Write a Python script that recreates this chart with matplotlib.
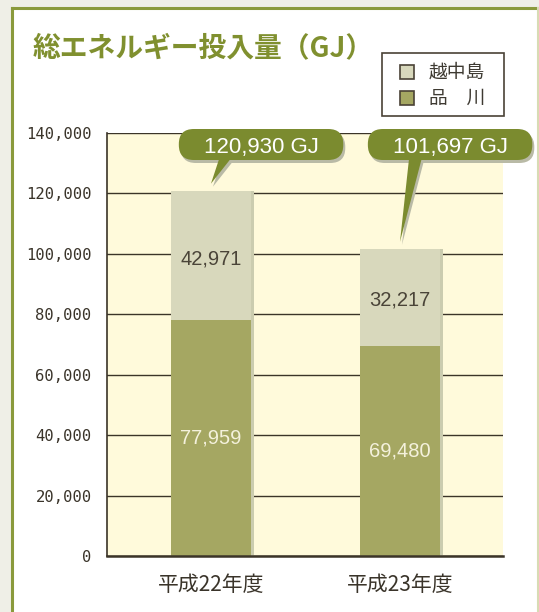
import matplotlib
matplotlib.use('Agg')
import matplotlib.pyplot as plt
from matplotlib.patches import FancyBboxPatch, Rectangle, Polygon
from matplotlib.lines import Line2D
from matplotlib.ticker import FuncFormatter

plt.rcParams['font.family'] = ['Noto Sans CJK JP', 'DejaVu Sans']

# data
years = ['平成22年度', '平成23年度']
shinagawa = [77959, 69480]
etchujima = [42971, 32217]
totals = [120930, 101697]
series_names = ['越中島', '品　川']
y_ticks = [0, 20000, 40000, 60000, 80000, 100000, 120000, 140000]

OLIVE = '#7b8b2f'
C_LOW = '#a5a762'
C_TOP = '#d8d8bc'
C_BG = '#fffadb'
DARK = '#3b3428'

W, H = 539, 612
fig = plt.figure(figsize=(W / 100, H / 100), dpi=100)
fig.patch.set_facecolor('#efefe7')

def px(x, y):
    # pixel from top-left -> figure fraction
    return x / W, 1 - y / H

# white panel with border
fig.patches.append(Rectangle(px(12, 700), (538 - 12) / W, (700 - 8) / H,
                             transform=fig.transFigure, facecolor='white',
                             edgecolor='none', zorder=-2))
fig.lines.append(Line2D([12 / W, 12 / W], [0, 1 - 8 / H], transform=fig.transFigure,
                        color='#8a9a3c', lw=2.2, zorder=-1))
fig.lines.append(Line2D([12 / W, 538 / W], [1 - 8 / H, 1 - 8 / H], transform=fig.transFigure,
                        color='#8a9a3c', lw=2.2, zorder=-1))
fig.lines.append(Line2D([538 / W, 538 / W], [0, 1 - 8 / H], transform=fig.transFigure,
                        color='#d8dbb4', lw=1.5, zorder=-1))

fig.text(33 / W, 1 - 48 / H, '総エネルギー投入量（GJ）', color='#80902f', fontsize=20,
         fontweight='bold', va='center', ha='left')

# legend box
fig.patches.append(Rectangle(px(382, 116), (504 - 382) / W, (116 - 53) / H,
                             transform=fig.transFigure, facecolor='white',
                             edgecolor='#4a4236', lw=1.2))
for k, (name, col) in enumerate(zip(series_names, [C_TOP, C_LOW])):
    yc = 72 + k * 26
    fig.patches.append(Rectangle(px(400, yc + 7), 14 / W, 14 / H, transform=fig.transFigure,
                                 facecolor=col, edgecolor='#4a4236', lw=1.2))
    fig.text(429 / W, 1 - yc / H, name, fontsize=13.5, color='#3e3a32', va='center', ha='left')

# axes
ax = fig.add_axes([107 / W, 1 - 556 / H, (503 - 107) / W, (556 - 133) / H])
ax.set_zorder(1)
ax.set_facecolor(C_BG)
ax.set_ylim(0, 140000)
ax.set_xlim(-0.55, 1.545)
ax.set_yticks(y_ticks)
ax.yaxis.set_major_formatter(FuncFormatter(lambda v, p: f'{int(v):,}'))
for lab in ax.get_yticklabels():
    lab.set_fontfamily('DejaVu Sans Mono')
ax.tick_params(axis='y', length=0, pad=11, labelsize=11.2, labelcolor='#3a342a')
ax.tick_params(axis='x', length=0, pad=13, labelsize=15, labelcolor='#3a342a')
ax.grid(axis='y', color=DARK, lw=1.0, zorder=0)
ax.set_axisbelow(True)
for s in ['top', 'right']:
    ax.spines[s].set_visible(False)
ax.spines['left'].set_color(DARK)
ax.spines['left'].set_linewidth(1.2)
ax.spines['bottom'].set_color(DARK)
ax.spines['bottom'].set_linewidth(1.8)
ax.spines['bottom'].set_zorder(5)

xs = list(range(len(years)))
bw = 0.423
ax.bar([x + 0.018 for x in xs], totals, width=bw, color='#cbccaf', zorder=2)
ax.bar(xs, shinagawa, width=bw, color=C_LOW, zorder=3)
ax.bar(xs, etchujima, width=bw, bottom=shinagawa, color=C_TOP, zorder=3)
ax.set_xticks(xs)
ax.set_xticklabels(years)

for x, lo, hi in zip(xs, shinagawa, etchujima):
    ax.text(x, lo * 0.51, f'{lo:,}', ha='center', va='center_baseline', fontsize=14.5,
            family='Liberation Sans', color='#f4f1dc', zorder=4)
    ax.text(x, lo + hi * 0.49, f'{hi:,}', ha='center', va='center_baseline', fontsize=14.5,
            family='Liberation Sans', color='#4a4438', zorder=4)

# callouts (drawn in display pixels)
fig.canvas.draw()
for x, tot in zip(xs, totals):
    tx, ty = ax.transData.transform((x, tot + 2300))
    bx0 = ax.transData.transform((x - 0.17, 0))[0]
    bx1 = ax.transData.transform((x + 0.70, 0))[0]
    by0 = H - 160
    bh = 31
    b0 = ax.transData.transform((x + 0.05, 0))[0]
    b1 = ax.transData.transform((x + 0.12, 0))[0]
    for dx, dy, col, z in [(2, -3, '#b9baa6', 6), (0, 0, OLIVE, 7)]:
        fig.patches.append(FancyBboxPatch((bx0 + dx, by0 + dy), bx1 - bx0, bh,
                                          boxstyle='round,pad=0,rounding_size=15',
                                          transform=None, facecolor=col,
                                          edgecolor='none', zorder=z))
        fig.patches.append(Polygon([(b0 + dx, by0 + 5 + dy), (b1 + dx, by0 + 5 + dy),
                                    (tx + dx, ty + dy)], closed=True, transform=None,
                                   facecolor=col, edgecolor='none', zorder=z))
    fig.text((bx0 + bx1) / 2 / W, (by0 + bh / 2) / H, f'{tot:,} GJ', color='white',
             fontsize=16, family='Liberation Sans', ha='center', va='center_baseline',
             zorder=8)

plt.savefig('out.png', dpi=100, facecolor=fig.get_facecolor())
